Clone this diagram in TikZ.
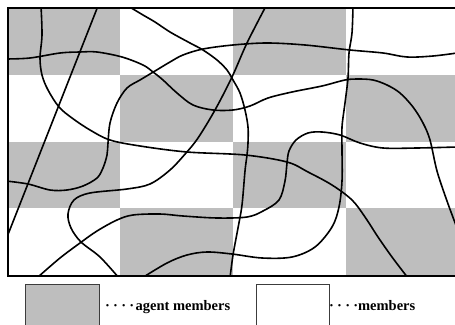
\documentclass[tikz,border=0pt]{standalone}
\usepackage{fontspec}
\setmainfont{Liberation Serif}
\definecolor{cellgray}{RGB}{190,190,190}
\definecolor{boxedge}{RGB}{60,60,60}
\begin{document}
\begin{tikzpicture}[x=1pt,y=-1pt,
  curve/.style={line width=1.6pt, line cap=round, line join=round},
  cell/.style={fill=cellgray},
  legbox/.style={draw=boxedge, line width=0.9pt},
  legtext/.style={anchor=base west, inner sep=0pt, font=\fontsize{14.5}{16}\selectfont\bfseries}]
\useasboundingbox (0,0) rectangle (455,324);
\fill[white] (0,0) rectangle (455,324);
% checkerboard
\fill[cell] (8,8) rectangle (120,75);
\fill[cell] (233,8) rectangle (346,75);
\fill[cell] (120,75) rectangle (233,142);
\fill[cell] (346,75) rectangle (456,142);
\fill[cell] (8,142) rectangle (120,208);
\fill[cell] (233,142) rectangle (346,208);
\fill[cell] (120,208) rectangle (233,276);
\fill[cell] (346,208) rectangle (456,276);
\begin{scope}
\clip (8,8) rectangle (456,276);
% A
\draw[curve] (98,6) -- (7,237);
% B
\draw[curve] plot[smooth, tension=0.55] coordinates {(266,6) (247,43) (232,77) (215,110) (198,138) (186,153) (170,170) (150,184) (127,189) (90,193) (74,200) (68,214) (71,228) (81,242) (100,257) (119,278)};
% C
\draw[curve] plot[smooth, tension=0.55] coordinates {(41,6) (42,35) (40,58) (42,75) (48,90) (59,107) (72,118) (90,130) (110,140) (140,146) (187,152) (245,155) (287,162) (308,172) (332,185) (352,200) (365,217) (378,237) (392,257) (408,278)};
% D
\draw[curve] plot[smooth, tension=0.55] coordinates {(6,59) (30,58) (60,53) (80,52) (97,52) (122,57) (143,65) (153,72) (163,80) (177,93) (193,105) (213,110) (233,110) (250,106) (268,98) (292,92) (322,86) (345,80) (358,79) (373,80) (387,85) (400,93) (413,107) (423,123) (430,140) (437,171) (447,201) (457,228)};
% E
\draw[curve] plot[smooth, tension=0.55] coordinates {(128,6) (143,15) (155,22) (170,32) (190,43) (203,50) (217,60) (227,70) (233,80) (240,93) (245,110) (248,127) (248,143) (247,155) (245,171) (242,205) (238,228) (233,255) (230,278)};
% F
\draw[curve] plot[smooth, tension=0.55] coordinates {(6,181) (28,184) (50,190) (67,190) (83,186) (97,178) (103,168) (107,155) (108,143) (110,123) (117,103) (127,88) (140,80) (155,71) (170,62) (183,55) (203,49) (233,45) (267,43) (305,45) (350,50) (383,53) (407,57) (433,56) (457,53)};
% G
\draw[curve] plot[smooth, tension=0.55] coordinates {(353,6) (352,33) (349,53) (348,78) (345,103) (342,127) (342,150) (342,181) (339,207) (332,227) (315,247) (292,257) (262,258) (232,254) (207,252) (187,255) (167,263) (142,278)};
% H
\draw[curve] plot[smooth, tension=0.55] coordinates {(457,147) (417,148) (383,148) (360,143) (340,135) (322,132) (308,133) (296,140) (289,151) (287,163) (285,181) (279,200) (263,211) (247,217) (217,218) (183,216) (160,214) (133,215) (117,220) (97,231) (80,243) (60,258) (38,277)};
\end{scope}
% frame
\draw[line width=1.6pt] (8,276) -- (8,8) -- (456,8);
\draw[line width=2pt] (7.2,276) -- (456,276);
% legend
\draw[legbox, fill=cellgray] (25,284.5) rectangle (99.5,330);
\node[legtext] (t1) at (105,310.5) {·\kern3.2pt·\kern3.2pt·\kern3.2pt·\kern1.5pt agent members};
\draw[legbox, fill=white] (256.5,284.5) rectangle (329.5,330);
\node[legtext] (t2) at (329,310.5) {·\kern3.2pt·\kern3.2pt·\kern3.2pt·members};
\end{tikzpicture}
\end{document}
